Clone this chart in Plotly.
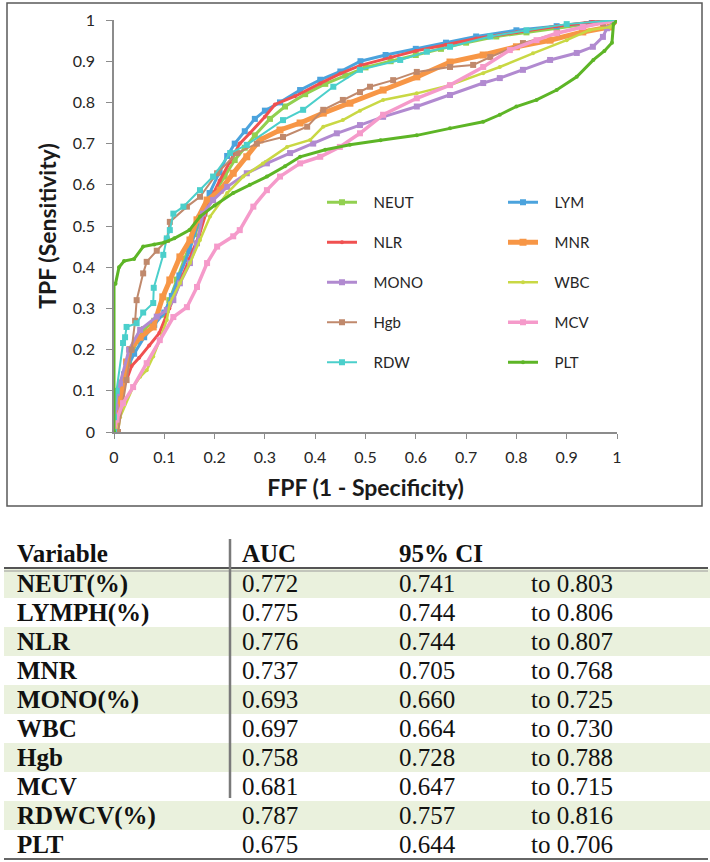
import plotly.graph_objects as go

W, H = 710, 862

# ---------------- ROC curve data (FPF, TPF) ----------------
neut_fpf = [0, 0.005, 0.015, 0.03, 0.045, 0.06, 0.08, 0.1, 0.11, 0.125, 0.14, 0.16, 0.18, 0.2, 0.22, 0.24, 0.26, 0.28, 0.31, 0.34, 0.38, 0.42, 0.46, 0.5, 0.55, 0.6, 0.65, 0.7, 0.76, 0.82, 0.88, 0.94, 1]
neut_tpf = [0, 0.06, 0.12, 0.17, 0.22, 0.25, 0.27, 0.285, 0.32, 0.37, 0.42, 0.48, 0.53, 0.58, 0.62, 0.66, 0.69, 0.72, 0.76, 0.79, 0.82, 0.845, 0.865, 0.885, 0.9, 0.915, 0.93, 0.945, 0.96, 0.97, 0.98, 0.99, 1]

lym_fpf = [0, 0.005, 0.02, 0.04, 0.06, 0.08, 0.1, 0.115, 0.13, 0.15, 0.17, 0.19, 0.21, 0.225, 0.24, 0.26, 0.28, 0.3, 0.33, 0.37, 0.41, 0.45, 0.49, 0.54, 0.6, 0.66, 0.72, 0.8, 0.88, 0.95, 1]
lym_tpf = [0, 0.07, 0.14, 0.19, 0.23, 0.26, 0.29, 0.33, 0.38, 0.44, 0.52, 0.58, 0.63, 0.67, 0.7, 0.73, 0.76, 0.78, 0.8, 0.83, 0.855, 0.875, 0.9, 0.915, 0.93, 0.945, 0.96, 0.975, 0.985, 0.995, 1]

nlr_fpf = [0, 0.005, 0.02, 0.035, 0.05, 0.07, 0.09, 0.11, 0.13, 0.15, 0.17, 0.19, 0.21, 0.23, 0.25, 0.27, 0.3, 0.32, 0.36, 0.41, 0.45, 0.49, 0.55, 0.6, 0.66, 0.72, 0.8, 0.88, 0.95, 1]
nlr_tpf = [0, 0.05, 0.11, 0.16, 0.18, 0.21, 0.24, 0.3, 0.36, 0.42, 0.48, 0.56, 0.61, 0.655, 0.7, 0.725, 0.765, 0.795, 0.815, 0.846, 0.87, 0.89, 0.91, 0.925, 0.94, 0.955, 0.97, 0.985, 0.995, 1]

mnr_fpf = [0, 0.015, 0.025, 0.032, 0.052, 0.078, 0.097, 0.111, 0.131, 0.151, 0.165, 0.185, 0.211, 0.237, 0.264, 0.29, 0.33, 0.37, 0.416, 0.469, 0.535, 0.602, 0.668, 0.734, 0.8, 0.867, 0.932, 0.986, 1]
mnr_tpf = [0, 0.1, 0.17, 0.2, 0.23, 0.255, 0.328, 0.369, 0.425, 0.466, 0.515, 0.563, 0.587, 0.628, 0.668, 0.709, 0.733, 0.75, 0.774, 0.798, 0.83, 0.862, 0.898, 0.915, 0.935, 0.951, 0.971, 0.983, 1]

mono_fpf = [0, 0.003, 0.006, 0.012, 0.03, 0.052, 0.085, 0.105, 0.118, 0.131, 0.151, 0.165, 0.177, 0.197, 0.225, 0.264, 0.304, 0.35, 0.396, 0.443, 0.489, 0.535, 0.602, 0.668, 0.734, 0.767, 0.813, 0.867, 0.92, 0.952, 0.972, 0.98, 1]
mono_tpf = [0, 0.06, 0.095, 0.118, 0.2, 0.248, 0.28, 0.296, 0.32, 0.361, 0.41, 0.458, 0.53, 0.563, 0.595, 0.628, 0.652, 0.677, 0.7, 0.725, 0.745, 0.765, 0.79, 0.818, 0.847, 0.859, 0.879, 0.903, 0.92, 0.935, 0.959, 0.98, 1]

wbc_fpf = [0, 0.008, 0.012, 0.038, 0.052, 0.065, 0.078, 0.091, 0.105, 0.111, 0.131, 0.151, 0.171, 0.191, 0.225, 0.257, 0.296, 0.344, 0.39, 0.416, 0.455, 0.489, 0.535, 0.602, 0.668, 0.734, 0.767, 0.833, 0.9, 0.946, 0.986, 1]
wbc_tpf = [0, 0, 0.036, 0.109, 0.134, 0.15, 0.183, 0.223, 0.272, 0.313, 0.361, 0.41, 0.466, 0.523, 0.58, 0.62, 0.652, 0.692, 0.709, 0.741, 0.757, 0.78, 0.806, 0.822, 0.842, 0.871, 0.886, 0.919, 0.951, 0.976, 0.983, 1]

hgb_fpf = [0, 0.008, 0.025, 0.035, 0.042, 0.045, 0.058, 0.065, 0.085, 0.105, 0.111, 0.145, 0.171, 0.205, 0.245, 0.284, 0.336, 0.384, 0.416, 0.455, 0.489, 0.509, 0.555, 0.602, 0.668, 0.714, 0.748, 0.813, 0.881, 0.932, 0.972, 1]
hgb_tpf = [0, 0, 0.126, 0.2, 0.27, 0.32, 0.385, 0.413, 0.44, 0.466, 0.51, 0.547, 0.571, 0.628, 0.677, 0.7, 0.716, 0.741, 0.782, 0.806, 0.825, 0.838, 0.854, 0.874, 0.886, 0.891, 0.91, 0.944, 0.968, 0.983, 0.992, 1]

mcv_fpf = [0, 0.005, 0.018, 0.038, 0.065, 0.091, 0.118, 0.145, 0.165, 0.185, 0.205, 0.237, 0.25, 0.277, 0.304, 0.33, 0.37, 0.41, 0.449, 0.489, 0.535, 0.602, 0.668, 0.734, 0.787, 0.84, 0.88, 0.932, 1]
mcv_tpf = [0, 0.03, 0.07, 0.109, 0.167, 0.223, 0.279, 0.303, 0.352, 0.41, 0.45, 0.475, 0.49, 0.547, 0.587, 0.62, 0.652, 0.668, 0.692, 0.725, 0.77, 0.81, 0.842, 0.886, 0.927, 0.951, 0.968, 0.983, 1]

rdw_fpf = [0, 0, 0.005, 0.018, 0.022, 0.025, 0.045, 0.058, 0.078, 0.079, 0.098, 0.105, 0.111, 0.118, 0.138, 0.171, 0.197, 0.231, 0.264, 0.336, 0.376, 0.436, 0.489, 0.569, 0.622, 0.668, 0.748, 0.82, 0.9, 1]
rdw_tpf = [0, 0.036, 0.1, 0.216, 0.23, 0.255, 0.264, 0.29, 0.313, 0.35, 0.43, 0.47, 0.49, 0.53, 0.547, 0.587, 0.62, 0.677, 0.697, 0.757, 0.782, 0.838, 0.879, 0.903, 0.923, 0.935, 0.96, 0.975, 0.99, 1]

plt_fpf = [0, 0, 0.003, 0.01, 0.02, 0.04, 0.058, 0.08, 0.1, 0.12, 0.15, 0.171, 0.2, 0.237, 0.27, 0.304, 0.34, 0.37, 0.42, 0.469, 0.53, 0.602, 0.668, 0.734, 0.767, 0.8, 0.84, 0.88, 0.92, 0.953, 0.975, 0.99, 0.993, 1]
plt_tpf = [0, 0.36, 0.36, 0.4, 0.415, 0.42, 0.45, 0.455, 0.46, 0.47, 0.49, 0.523, 0.55, 0.58, 0.6, 0.62, 0.645, 0.668, 0.685, 0.697, 0.708, 0.72, 0.737, 0.753, 0.77, 0.79, 0.806, 0.83, 0.862, 0.903, 0.925, 0.945, 0.99, 1]

series_names = ["NEUT", "LYM", "NLR", "MNR", "MONO", "WBC", "Hgb", "MCV", "RDW", "PLT"]
series_fpf = [neut_fpf, lym_fpf, nlr_fpf, mnr_fpf, mono_fpf, wbc_fpf, hgb_fpf, mcv_fpf, rdw_fpf, plt_fpf]
series_tpf = [neut_tpf, lym_tpf, nlr_tpf, mnr_tpf, mono_tpf, wbc_tpf, hgb_tpf, mcv_tpf, rdw_tpf, plt_tpf]

x_ticks = [0, 0.1, 0.2, 0.3, 0.4, 0.5, 0.6, 0.7, 0.8, 0.9, 1]
y_ticks = [0, 0.1, 0.2, 0.3, 0.4, 0.5, 0.6, 0.7, 0.8, 0.9, 1]

# ---------------- table data ----------------
tbl_header = ["Variable", "AUC", "95% CI"]
tbl_variable = ["NEUT(%)", "LYMPH(%)", "NLR", "MNR", "MONO(%)", "WBC", "Hgb", "MCV", "RDWCV(%)", "PLT"]
tbl_auc = ["0.772", "0.775", "0.776", "0.737", "0.693", "0.697", "0.758", "0.681", "0.787", "0.675"]
tbl_ci_low = ["0.741", "0.744", "0.744", "0.705", "0.660", "0.664", "0.728", "0.647", "0.757", "0.644"]
tbl_ci_high = ["0.803", "0.806", "0.807", "0.768", "0.725", "0.730", "0.788", "0.715", "0.816", "0.706"]

# ---------------- styles / layout constants ----------------
colors = {"NEUT": "#92D050", "LYM": "#4BA3DD", "NLR": "#F05050", "MNR": "#F79646", "MONO": "#B18AD0",
          "WBC": "#C9D844", "Hgb": "#C0896C", "MCV": "#F59ACA", "RDW": "#4BCFCB", "PLT": "#5DB526"}
symbols = {"NEUT": "square", "LYM": "square", "NLR": "circle", "MNR": "square", "MONO": "square",
           "WBC": "circle", "Hgb": "square", "MCV": "square", "RDW": "square", "PLT": "circle"}
msize = {"NEUT": 6, "LYM": 6, "NLR": 4, "MNR": 7, "MONO": 6, "WBC": 4, "Hgb": 6, "MCV": 6, "RDW": 6, "PLT": 4}
lwidth = {"NEUT": 3, "LYM": 3, "NLR": 3, "MNR": 5, "MONO": 3, "WBC": 2.5, "Hgb": 2, "MCV": 3.5, "RDW": 2, "PLT": 3}
legend_col = {"NEUT": "legend", "NLR": "legend", "MONO": "legend", "Hgb": "legend", "RDW": "legend",
              "LYM": "legend2", "MNR": "legend2", "WBC": "legend2", "MCV": "legend2", "PLT": "legend2"}

col_left = [17, 242, 399, 531]       # table text column starts (px)
text_dy = 0.08                       # vertical nudge of table text (row units)
band = "#EAF1DD"
serif = "Liberation Serif"
NB = "\u00a0\u00a0\u00a0"


def px_x(p):
    return p / W


def px_y(p):
    return 1 - p / H


fig = go.Figure()
for name, xs, ys in zip(series_names, series_fpf, series_tpf):
    fig.add_trace(go.Scatter(
        x=xs, y=ys, name=NB + name, mode="lines+markers",
        line=dict(color=colors[name], width=lwidth[name]),
        marker=dict(color=colors[name], symbol=symbols[name], size=msize[name], line=dict(width=0)),
        legend=legend_col[name], legendgroup=name, hoverinfo="x+y+name",
    ))

# ---------------- table drawn on its own axes (x2/y2) ----------------
n_rows = len(tbl_variable)
row_idx = list(range(n_rows))
band_rows = [i + 0.5 for i in row_idx if i % 2 == 0]
fig.add_trace(go.Bar(
    y=band_rows, x=[706] * len(band_rows), base=4, width=1, orientation="h",
    marker=dict(color=band, line=dict(width=0)), xaxis="x2", yaxis="y2",
    showlegend=False, hoverinfo="skip",
))

row_centers = [i + 0.5 + text_dy for i in row_idx]
table_cols = [["<b>%s</b>" % v for v in tbl_variable], tbl_auc, tbl_ci_low, ["to " + v for v in tbl_ci_high]]
for cx, col in zip(col_left, table_cols):
    fig.add_trace(go.Scatter(
        x=[cx] * n_rows, y=row_centers, mode="text", text=col, textposition="middle right",
        textfont=dict(family=serif, size=25, color="#111"), xaxis="x2", yaxis="y2",
        showlegend=False, hoverinfo="skip", cliponaxis=False,
    ))
fig.add_trace(go.Scatter(
    x=col_left[:3], y=[-0.55 + text_dy] * 3, mode="text", text=["<b>%s</b>" % h for h in tbl_header],
    textposition="middle right", textfont=dict(family=serif, size=25, color="#111"),
    xaxis="x2", yaxis="y2", showlegend=False, hoverinfo="skip", cliponaxis=False,
))

axis_font = dict(family="Lato", size=16, color="#262626")
title_font = dict(family="Lato", size=23, color="#1a1a1a")
legend_font = dict(family="Lato", size=15, color="#262626")
fig.update_layout(
    width=W, height=H, margin=dict(l=0, r=0, t=0, b=0),
    paper_bgcolor="white", plot_bgcolor="white", barmode="overlay",
    xaxis=dict(domain=[px_x(114), px_x(617)], range=[0, 1], tickvals=x_ticks, ticktext=[f"{v:g}" for v in x_ticks],
               showgrid=False, zeroline=False, showline=True, linecolor="#8c8c8c", linewidth=1.5,
               ticks="outside", ticklen=5, tickcolor="#8c8c8c", tickfont=axis_font, ticklabelstandoff=5,
               title=dict(text="<b>FPF (1 - Specificity)</b>", font=title_font, standoff=15), automargin=False,
               fixedrange=True, anchor="y"),
    yaxis=dict(domain=[px_y(432), px_y(20)], range=[0, 1], tickvals=y_ticks, ticktext=[f"{v:g}" for v in y_ticks],
               showgrid=False, zeroline=False, showline=True, linecolor="#8c8c8c", linewidth=1.5,
               ticks="outside", ticklen=6, tickcolor="#8c8c8c", tickfont=axis_font, ticklabelstandoff=8,
               title=dict(text="<b>TPF (Sensitivity)</b>", font=title_font, standoff=10), automargin=False,
               fixedrange=True, anchor="x"),
    xaxis2=dict(domain=[0, 1], range=[0, W], visible=False, fixedrange=True, anchor="y2"),
    yaxis2=dict(domain=[px_y(859), px_y(539)], range=[n_rows, -30 / 29], visible=False, fixedrange=True,
                anchor="x2"),
    legend=dict(x=px_x(322), y=px_y(186), xanchor="left", yanchor="top", bgcolor="rgba(0,0,0,0)",
                font=legend_font, tracegroupgap=17.5, itemwidth=30),
    legend2=dict(x=px_x(503), y=px_y(186), xanchor="left", yanchor="top", bgcolor="rgba(0,0,0,0)",
                 font=legend_font, tracegroupgap=17.5, itemwidth=30),
    shapes=[
        dict(type="rect", xref="paper", yref="paper", x0=px_x(7), x1=px_x(702), y0=px_y(506), y1=px_y(3),
             line=dict(color="#5a5a5a", width=1.5), fillcolor="rgba(0,0,0,0)"),
        dict(type="line", xref="paper", yref="paper", x0=px_x(4), x1=px_x(708), y0=px_y(568), y1=px_y(568),
             line=dict(color="#555", width=2)),
        dict(type="line", xref="paper", yref="paper", x0=px_x(4), x1=px_x(708), y0=px_y(571), y1=px_y(571),
             line=dict(color="#999", width=1.2)),
        dict(type="line", xref="paper", yref="paper", x0=px_x(230), x1=px_x(230), y0=px_y(539), y1=px_y(798),
             line=dict(color="#7a7a7a", width=2.5)),
        dict(type="line", xref="paper", yref="paper", x0=px_x(4), x1=px_x(708), y0=px_y(859), y1=px_y(859),
             line=dict(color="#333", width=1.5)),
    ],
)

fig.write_html("out.html", config={"displayModeBar": False},
               post_script="document.body.style.margin='0px';")
